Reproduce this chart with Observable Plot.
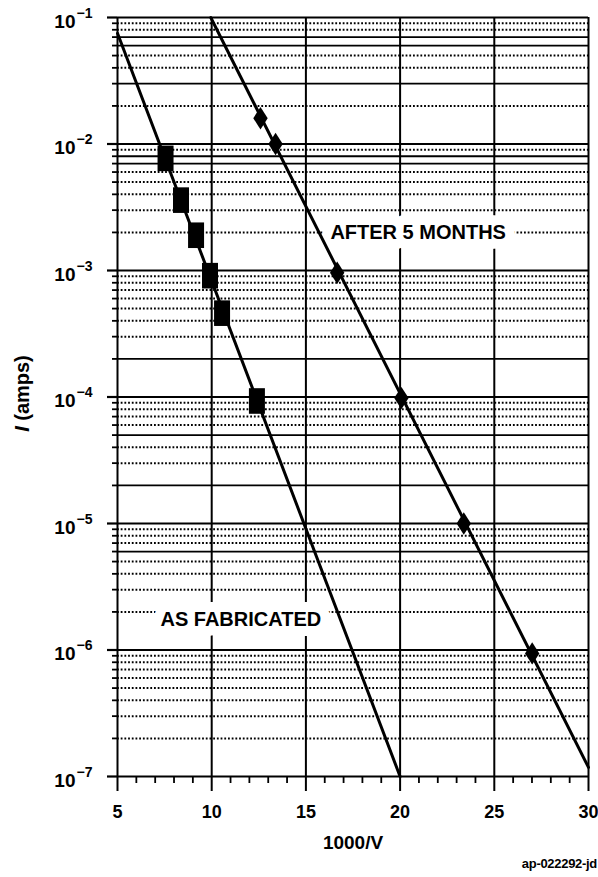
<!DOCTYPE html>
<html><head><meta charset="utf-8">
<script src="https://cdn.jsdelivr.net/npm/d3@7"></script>
<script src="https://cdn.jsdelivr.net/npm/@observablehq/plot@0.6"></script>
<style>
body{margin:0;background:#fff;width:598px;}
#chart svg{display:block;}
#caption{width:597px;height:21px;line-height:21px;text-align:right;font:bold 13px "Liberation Sans",Arial,sans-serif;color:#000;letter-spacing:-0.3px;}
</style></head><body>
<div id="chart"></div>
<div id="caption">ap-022292-jd</div>
<script>
// Axis ticks
const xTicks = [5, 10, 15, 20, 25, 30];
const xMinorTicks = [6,7,8,9,11,12,13,14,16,17,18,19,21,22,23,24,26,27,28,29];
const yDecades = [1e-7, 1e-6, 1e-5, 1e-4, 1e-3, 1e-2, 1e-1];
const mantissas = [2, 3, 4, 5, 6, 7, 8, 9];
const minorExponents = [-7, -6, -5, -4, -3, -2];
// minor grid lines printed solid on the graph paper: [mantissa, exponent]
const solidMinor = [[7,-2],[6,-2],[3,-2],[8,-3],[7,-3],[2,-4],[5,-5],[2,-5],[6,-6]];

// AS FABRICATED (squares)
const fabX = [7.55, 8.37, 9.17, 9.91, 10.55, 12.40];
const fabY = [7.7e-3, 3.6e-3, 1.9e-3, 9.1e-4, 4.6e-4, 9.3e-5];
const fabFitX = [5, 20];
const fabFitY = [7.5e-2, 1e-7];

// AFTER 5 MONTHS (diamonds)
const monthsX = [12.59, 13.39, 16.66, 20.07, 23.38, 27.01];
const monthsY = [1.6e-2, 1.0e-2, 9.6e-4, 9.8e-5, 1.0e-5, 9.4e-7];
const monthsFitX = [9.95, 30];
const monthsFitY = [1e-1, 1.18e-7];

// in-plot labels
const labelText = ["AFTER 5 MONTHS", "AS FABRICATED"];
const labelX = [16.3, 7.28];
const labelY = [2e-3, 1.75e-6];

const xTitle = "1000/V";
const yTitleItalic = "I";
const yTitleRest = "(amps)";

// derived tables
const minor = [];
for (const e of minorExponents) for (const m of mantissas) {
  const solid = solidMinor.some(([sm, se]) => sm === m && se === e);
  minor.push({v: m * Math.pow(10, e), solid});
}
const minorDotted = minor.filter(d => !d.solid).map(d => d.v);
const minorSolid = minor.filter(d => d.solid).map(d => d.v);
const minorAll = minor.map(d => d.v);
const pts = (xs, ys) => xs.map((x, i) => ({x, y: ys[i]}));
const labels = labelText.map((t, i) => ({t, x: labelX[i], y: labelY[i]}));

const tallSquare = {draw(ctx, size) {
  const r = Math.sqrt(size / Math.PI), w = r, h = r * 1.6;
  ctx.moveTo(-w, -h); ctx.lineTo(w, -h); ctx.lineTo(w, h); ctx.lineTo(-w, h); ctx.closePath();
}};
const tallDiamond = {draw(ctx, size) {
  const r = Math.sqrt(size / Math.PI), w = r * 0.9, h = r * 1.4;
  ctx.moveTo(0, -h); ctx.lineTo(w, 0); ctx.lineTo(0, h); ctx.lineTo(-w, 0); ctx.closePath();
}};

const chart = Plot.plot({
  width: 598, height: 856,
  marginLeft: 117, marginRight: 10, marginTop: 17, marginBottom: 80,
  style: {fontFamily: "'Liberation Sans', Arial, sans-serif", fontSize: "18px", fontWeight: "bold", color: "black", background: "white", overflow: "visible"},
  x: {domain: [5, 30], label: null},
  y: {type: "log", domain: [1e-7, 1e-1], label: null},
  marks: [
    Plot.ruleY(minorDotted, {stroke: "black", strokeWidth: 2, strokeDasharray: "1.8,1.9"}),
    Plot.ruleY(minorSolid, {stroke: "black", strokeWidth: 1.8}),
    Plot.ruleX(xTicks, {stroke: "black", strokeWidth: 2}),
    Plot.ruleY(yDecades, {stroke: "black", strokeWidth: 2.2}),
    Plot.axisY({ticks: yDecades, tickSize: 10, tickFormat: () => "", strokeWidth: 2.2, label: null}),
    Plot.axisY({ticks: minorAll, tickSize: 5, tickFormat: () => "", strokeWidth: 1.8, label: null}),
    Plot.axisX({ticks: xTicks, tickSize: 15, tickPadding: 14, strokeWidth: 2, fontSize: 18, fontWeight: "bold", label: null}),
    Plot.axisX({ticks: xMinorTicks, tickSize: 7, tickFormat: () => "", strokeWidth: 1.8, label: null}),
    Plot.text(yDecades, {y: d => d, frameAnchor: "left", text: () => "10", textAnchor: "end", dx: -42, dy: 4, fontSize: 19, fontWeight: "bold"}),
    Plot.text(yDecades, {y: d => d, frameAnchor: "left", text: d => "\u2212" + Math.abs(Math.round(Math.log10(d))), textAnchor: "start", dx: -41, dy: -4, fontSize: 14, fontWeight: "bold"}),
    Plot.text([yTitleRest], {text: d => d, frameAnchor: "left", textAnchor: "middle", rotate: -90, dx: -94.5, dy: -9, fontSize: 20, fontWeight: "bold"}),
    Plot.text([yTitleItalic], {text: d => d, frameAnchor: "left", textAnchor: "middle", rotate: -90, dx: -94.5, dy: 32, fontSize: 20, fontWeight: "bold", fontStyle: "italic"}),
    Plot.text([xTitle], {text: d => d, frameAnchor: "bottom", dy: 72, fontSize: 19, fontWeight: "bold"}),
    Plot.text(labels, {x: "x", y: "y", text: "t", textAnchor: "start", fontSize: 20, fontWeight: "bold", fill: "white", stroke: "white", strokeWidth: 20, strokeLinejoin: "round"}),
    Plot.text(labels, {x: "x", y: "y", text: "t", textAnchor: "start", fontSize: 20, fontWeight: "bold", fill: "black"}),
    Plot.line(pts(fabFitX, fabFitY), {x: "x", y: "y", stroke: "black", strokeWidth: 3}),
    Plot.line(pts(monthsFitX, monthsFitY), {x: "x", y: "y", stroke: "black", strokeWidth: 3}),
    Plot.dot(pts(fabX, fabY), {x: "x", y: "y", r: 8, symbol: tallSquare, fill: "black", stroke: "none"}),
    Plot.dot(pts(monthsX, monthsY), {x: "x", y: "y", r: 8, symbol: tallDiamond, fill: "black", stroke: "none"})
  ]
});
document.getElementById("chart").appendChild(chart);
</script>
</body></html>
